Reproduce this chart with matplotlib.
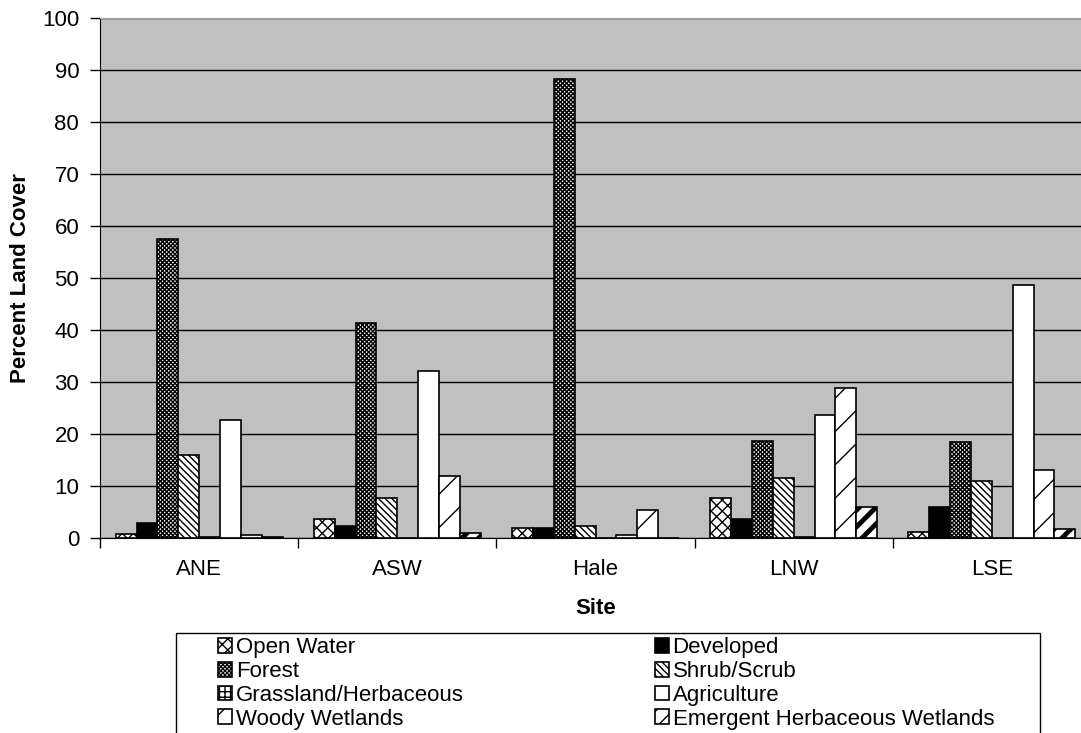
import numpy as np
import matplotlib
matplotlib.use("Agg")
import matplotlib.pyplot as plt
from matplotlib.patches import Rectangle

plt.rcParams['font.family'] = ['Liberation Sans', 'DejaVu Sans']

sites = ['ANE', 'ASW', 'Hale', 'LNW', 'LSE']
open_water = [0.8, 3.6, 1.9, 7.7, 1.2]
developed = [2.9, 2.4, 1.9, 3.7, 6.0]
forest = [57.5, 41.3, 88.2, 18.6, 18.5]
shrub = [15.9, 7.7, 2.4, 11.5, 11.0]
grassland = [0.1, 0.0, 0.0, 0.2, 0.0]
agriculture = [22.6, 32.2, 0.6, 23.7, 48.7]
woody = [0.5, 12.0, 5.3, 28.8, 13.1]
emergent = [0.2, 0.9, 0.0, 6.0, 1.8]

series = [
    ('Open Water', open_water, 'white', 'xxx', 1.0),
    ('Developed', developed, 'black', None, 1.0),
    ('Forest', forest, 'white', 'xxxxxxxx', 1.0),
    ('Shrub/Scrub', shrub, 'white', '\\\\\\\\\\', 1.0),
    ('Grassland/Herbaceous', grassland, 'white', '+++', 1.0),
    ('Agriculture', agriculture, 'white', None, 1.0),
    ('Woody Wetlands', woody, 'white', '/', 1.0),
    ('Emergent Herbaceous Wetlands', emergent, 'white', '//', 3.5),
]

W, H = 1081, 733
fig = plt.figure(figsize=(W / 100, H / 100), dpi=100)
ax = fig.add_axes([100 / W, (H - 538) / H, 991 / W, 520 / H])
ax.set_facecolor('#c0c0c0')

# 8 bars per site, excel style gap of 150%
bw = 1 / 9.5
x = np.arange(len(sites))
bars = []
for j, (name, vals, fc, hatch, hlw) in enumerate(series):
    with plt.rc_context({'hatch.linewidth': hlw}):
        b = ax.bar(x + 0.75 * bw + j * bw + bw / 2, vals, width=bw, color=fc,
                   edgecolor='black', linewidth=1.2, hatch=hatch, label=name, zorder=3)
        for p in b:
            try:
                p.set_hatch_linewidth(hlw)
            except AttributeError:
                pass
    bars.append(b)

ax.set_xlim(0, 5)
ax.set_ylim(0, 100)
ax.set_yticks(np.arange(0, 101, 10))
ax.yaxis.grid(True, color='black', linewidth=1)
ax.set_axisbelow(True)

ax.set_xticks(np.arange(6))
ax.set_xticklabels([])
ax.set_xticks(x + 0.5, minor=True)
ax.set_xticklabels(sites, minor=True)
ax.tick_params(axis='x', which='major', direction='out', length=7, width=1)
ax.tick_params(axis='x', which='minor', length=0, pad=15, labelsize=16)
ax.tick_params(axis='y', direction='out', length=7, width=1, pad=8, labelsize=16)

ax.spines['right'].set_visible(False)
ax.spines['top'].set_color('#a0a0a0')
ax.spines['left'].set_color('black')
ax.spines['bottom'].set_color('black')

ax.set_ylabel('Percent Land Cover', fontsize=16, fontweight='bold')
ax.yaxis.set_label_coords(-0.07, 0.5)
ax.set_xlabel('Site', fontsize=16, fontweight='bold', va='top')
ax.xaxis.set_label_coords(0.5, -0.115)

# legend rows go left to right
order = [0, 2, 4, 6, 1, 3, 5, 7]
handles = [bars[i] for i in order]
labels = [series[i][0] for i in order]
fig.legend(handles, labels, loc='upper left', bbox_to_anchor=(218 / W, (H - 637) / H),
           bbox_transform=fig.transFigure, frameon=False, ncol=2, fontsize=16,
           borderpad=0, borderaxespad=0, handlelength=0.65, handleheight=0.65,
           handletextpad=0.15, labelspacing=0.13, columnspacing=8.6)
fig.add_artist(Rectangle((176 / W, -0.02), (1040 - 176) / W, (H - 633) / H + 0.02,
                         transform=fig.transFigure, fill=False, edgecolor='black', linewidth=1))

fig.savefig('out.png', dpi=100)
